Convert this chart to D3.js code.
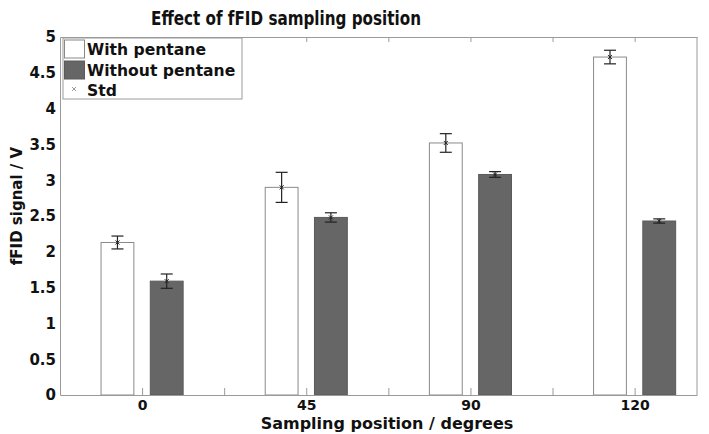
<!DOCTYPE html>
<html><head><meta charset="utf-8">
<script src="https://cdn.jsdelivr.net/npm/d3@7"></script>
<style>body{margin:0;background:#fff}svg{display:block}text{font-family:"DejaVu Sans",Verdana,sans-serif;font-weight:bold;fill:#111}</style>
</head><body>
<svg id="c" width="709" height="434"></svg>
<script>
const categories = ["0", "45", "90", "120"];
const withPentane = [2.13, 2.90, 3.52, 4.72];
const withPentaneStd = [0.09, 0.21, 0.13, 0.095];
const withoutPentane = [1.59, 2.48, 3.08, 2.43];
const withoutPentaneStd = [0.10, 0.065, 0.04, 0.03];
const yTicks = [0, 0.5, 1, 1.5, 2, 2.5, 3, 3.5, 4, 4.5, 5];
const seriesNames = ["With pentane", "Without pentane", "Std"];

(function () {
const svg = d3.select("#c");
const L = 60, R = 697, T = 37, B = 395;
const x = d3.scaleLinear().domain([0.5, 4.38]).range([L, R]);
const y = d3.scaleLinear().domain([0, 5]).range([B, T]);
const axisCol = "#9a9a9a";

const series = [
  {vals: withPentane, std: withPentaneStd, off: -0.15, fill: "#ffffff", stroke: "#8a8a8a"},
  {vals: withoutPentane, std: withoutPentaneStd, off: 0.15, fill: "#666666", stroke: "#5a5a5a"}
];
const bw = 0.2;

series.forEach(s => {
  svg.append("g").selectAll("rect").data(s.vals).join("rect")
    .attr("x", (d, i) => x(i + 1 + s.off - bw / 2))
    .attr("width", x(bw) - x(0))
    .attr("y", d => y(d))
    .attr("height", d => y(0) - y(d))
    .attr("fill", s.fill).attr("stroke", s.stroke).attr("stroke-width", 1);
});

const axB = d3.axisBottom(x).tickValues([1, 1.5, 2, 2.5, 3, 3.5, 4])
  .tickFormat(d => Number.isInteger(d) ? categories[d - 1] : "").tickSizeInner(-7).tickSizeOuter(0).tickPadding(5);
const gb = svg.append("g").attr("transform", `translate(0,${B})`).call(axB);
gb.select(".domain").attr("stroke", axisCol);
gb.selectAll(".tick line").attr("stroke", axisCol);
gb.selectAll(".tick text").attr("font-size", 14).attr("fill", "#111").attr("dy", "0.71em");

const axT = d3.axisTop(x).tickValues([1, 1.5, 2, 2.5, 3, 3.5, 4]).tickFormat("").tickSizeInner(-5).tickSizeOuter(0);
const gt = svg.append("g").attr("transform", `translate(0,${T})`).call(axT);
gt.select(".domain").attr("stroke", axisCol);
gt.selectAll(".tick line").attr("stroke", axisCol);

const axL = d3.axisLeft(y).tickValues(yTicks).tickFormat(d => d).tickSize(0).tickPadding(4);
const gl = svg.append("g").attr("transform", `translate(${L},0)`).call(axL);
gl.select(".domain").attr("stroke", axisCol);
gl.selectAll(".tick text").attr("font-size", 15).attr("fill", "#111");

svg.append("line").attr("x1", R).attr("x2", R).attr("y1", T).attr("y2", B).attr("stroke", axisCol);

series.forEach(s => {
  const g = svg.append("g");
  s.vals.forEach((v, i) => {
    const cx = x(i + 1 + s.off);
    const y1 = y(v + s.std[i]), y2 = y(v - s.std[i]);
    g.append("line").attr("x1", cx).attr("x2", cx).attr("y1", y1).attr("y2", y2).attr("stroke", "#222").attr("stroke-width", 1.2);
    [y1, y2].forEach(yy => g.append("line").attr("x1", cx - 6).attr("x2", cx + 6).attr("y1", yy).attr("y2", yy).attr("stroke", "#222").attr("stroke-width", 1.2));
    const my = y(v);
    g.append("path").attr("d", `M${cx-2},${my-2}L${cx+2},${my+2}M${cx-2},${my+2}L${cx+2},${my-2}`).attr("stroke", "#222").attr("stroke-width", 1);
  });
});

const lg = svg.append("g");
lg.append("rect").attr("x", 63).attr("y", 38).attr("width", 179).attr("height", 61).attr("fill", "#fff").attr("stroke", axisCol);
lg.append("rect").attr("x", 64.5).attr("y", 40).attr("width", 20).attr("height", 18).attr("fill", "#fff").attr("stroke", "#888");
lg.append("rect").attr("x", 64.5).attr("y", 61).attr("width", 20).attr("height", 18).attr("fill", "#666").attr("stroke", "#5a5a5a");
lg.append("path").attr("d", "M72,87L76,91M72,91L76,87").attr("stroke", "#999").attr("stroke-width", 1);
[49, 70, 90].forEach((yy, i) => lg.append("text").attr("x", 87).attr("y", yy).attr("dy", "0.36em").attr("font-size", 15.6).text(seriesNames[i]));

svg.append("text").attr("transform", "translate(286,25) scale(1,1.3)").attr("text-anchor", "middle").attr("font-size", 15.2).text("Effect of fFID sampling position");
svg.append("text").attr("x", 387).attr("y", 429).attr("text-anchor", "middle").attr("font-size", 16).text("Sampling position / degrees");
svg.append("text").attr("transform", "translate(22,206) rotate(-90)").attr("text-anchor", "middle").attr("font-size", 15).text("fFID signal / V");
})();
</script>
</body></html>
